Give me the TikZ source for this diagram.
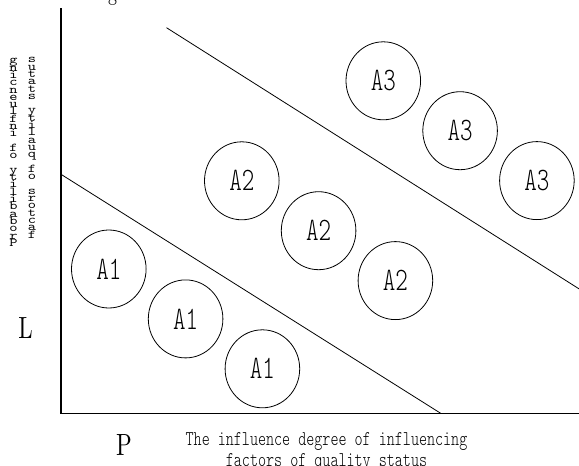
\documentclass[tikz,border=0pt]{standalone}
\usepackage{fontspec}
\newfontfamily\labelfont{lmmonolt10-regular.otf}[FakeStretch=0.73]
\newfontfamily\stackfont{lmmono10-regular.otf}[FakeStretch=1.3]
\newfontfamily\axisfont{lmroman10-regular.otf}[FakeStretch=0.75]
\usetikzlibrary{positioning,shapes.geometric}

\begin{document}
\begin{tikzpicture}[
    x=1pt, y=-1pt,
    on grid, node distance=49.9pt and 76.8pt,
    zone/.style={draw, ellipse, line width=0.8pt, minimum width=74.6pt, minimum height=78pt, inner sep=0pt, font=\labelfont\fontsize{32.7}{33}\selectfont},
    vchar/.style={anchor=base, inner sep=0pt, font=\stackfont\fontsize{12}{12}\selectfont},
    bigletter/.style={anchor=base, inner sep=0pt, font=\axisfont\fontsize{30.7}{31}\selectfont},
    border/.style={line width=0.8pt},
    axis/.style={line width=1.1pt}
]
\useasboundingbox (0,0) rectangle (579,466);
\clip (0,0) rectangle (579,466);

% axes
\coordinate (top) at (61,8);
\coordinate (origin) at (61,413.5);
\coordinate (right) at (579,413.5);
\draw[axis] (top) -- (origin) -- (right);

% zone borders
\draw[border] (61,174.3) -- (441,413.5);
\draw[border] (166.5,27.7) -- (590,295.8);

% A1 zone
\node[zone] (a11) at (108.8,269) {A1};
\node[zone, below right=of a11] (a12) {A1};
\node[zone, below right=of a12] (a13) {A1};
% A2 zone
\node[zone] (a21) at (241.8,180.8) {A2};
\node[zone, below right=of a21] (a22) {A2};
\node[zone, below right=of a22] (a23) {A2};
% A3 zone
\node[zone] (a31) at (383.3,80.8) {A3};
\node[zone, below right=of a31] (a32) {A3};
\node[zone, below right=of a32] (a33) {A3};

% axis names
\node[bigletter] (lname) at (25.5,338) {L};
\node[bigletter] (pname) at (124,455) {P};
\node[anchor=north, inner sep=0pt, align=center, font=\labelfont\fontsize{21}{21}\selectfont] (xlabel) at (326.5,432) {The influence degree of influencing\\factors of quality status};

% y label, letters stacked
\foreach \ch [count=\k from 1] in {g,n,i,c,n,e,u,l,f,n,i}
    \node[vchar] at (13.5,{56.5+\k*7.3}) {\ch};
\foreach \ch [count=\k from 13] in {f,o}
    \node[vchar] at (13.5,{56.5+\k*7.3}) {\ch};
\foreach \ch [count=\k from 16] in {y,t,i,l,i,b,a,b,o,r,P}
    \node[vchar] at (13.5,{56.5+\k*7.3}) {\ch};
\foreach \ch [count=\k from 1] in {s,u,t,a,t,s}
    \node[vchar] at (32,{55.5+\k*7.3}) {\ch};
\foreach \ch [count=\k from 8] in {y,t,i,l,a,u,q}
    \node[vchar] at (32,{55.5+\k*7.3}) {\ch};
\foreach \ch [count=\k from 16] in {f,o}
    \node[vchar] at (32,{55.5+\k*7.3}) {\ch};
\foreach \ch [count=\k from 19] in {s,r,o,t,c,a,f}
    \node[vchar] at (32,{55.5+\k*7.3}) {\ch};

% cut-off title letter
\node[anchor=base, inner sep=0pt, font=\axisfont\fontsize{24}{24}\selectfont] (title) at (112.5,0.5) {g};
\end{tikzpicture}
\end{document}
